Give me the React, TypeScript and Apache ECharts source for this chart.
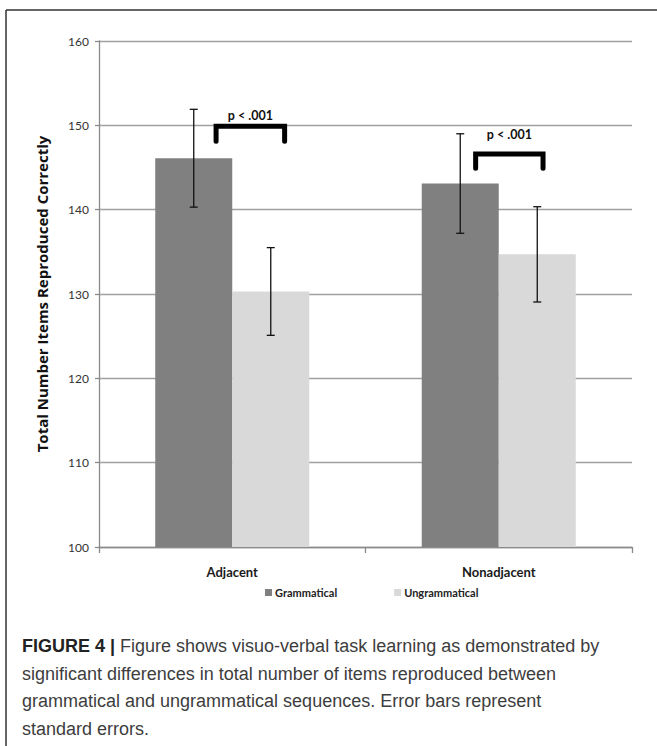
import React, { useEffect, useRef } from "react";
import * as echarts from "echarts";

const categories = ["Adjacent", "Nonadjacent"];
const seriesNames = ["Grammatical", "Ungrammatical"];
const grammatical = [146.1, 143.1];
const ungrammatical = [130.3, 134.7];
const grammaticalSE = [5.8, 5.9];
const ungrammaticalSE = [5.2, 5.65];
const yTicks = { min: 100, max: 160, interval: 10 };
// [category index, bracket top value, bracket leg end value, label value]
const brackets = [
  [0, 149.9, 148.1, 151.2],
  [1, 146.6, 144.9, 148.9],
];
const bracketLabel = "p < .001";
const yAxisTitle = "Total Number Items Reproduced Correctly";
const captionLines = [
  "{b|FIGURE 4 |} Figure shows visuo-verbal task learning as demonstrated by",
  "significant differences in total number of items reproduced between",
  "grammatical and ungrammatical sequences. Error bars represent",
  "standard errors.",
];

// layout (fractions of the bar width) for the bracket ends, relative to the bar centres
const bracketLayout = [
  { l: 0.29, r: 0.18 },
  { l: 0.2, r: 0.075 },
];

const GAP = 0.422; // barCategoryGap
const FONT = "Lato, 'Open Sans', sans-serif";
const CAPFONT = "'Liberation Sans', Arial, sans-serif";

export default function App() {
  const ref = useRef<HTMLDivElement>(null);
  useEffect(() => {
    if (!ref.current) return;
    const chart = echarts.init(ref.current, undefined, { renderer: "svg" });

    const errorSeries = (name: string, means: number[], se: number[], sign: number) => ({
      type: "custom",
      name: name + " SE",
      z: 5,
      data: means.map((m, i) => [i, m - se[i], m + se[i]]),
      renderItem: (params: any, api: any) => {
        const band = api.size([1, 0])[0];
        const barW = (band * (1 - GAP)) / 2;
        const lo = api.coord([api.value(0), api.value(1)]);
        const hi = api.coord([api.value(0), api.value(2)]);
        const x = lo[0] + (sign * barW) / 2;
        const cap = 4;
        const st = { stroke: "#111", lineWidth: 1.3 };
        return {
          type: "group",
          children: [
            { type: "line", shape: { x1: x, y1: lo[1], x2: x, y2: hi[1] }, style: st },
            { type: "line", shape: { x1: x - cap, y1: lo[1], x2: x + cap, y2: lo[1] }, style: st },
            { type: "line", shape: { x1: x - cap, y1: hi[1], x2: x + cap, y2: hi[1] }, style: st },
          ],
        };
      },
    });

    const bracketSeries = {
      type: "custom",
      name: "brackets",
      z: 6,
      data: brackets,
      renderItem: (params: any, api: any) => {
        const band = api.size([1, 0])[0];
        const barW = (band * (1 - GAP)) / 2;
        const idx = params.dataIndex;
        const lay = bracketLayout[idx];
        const top = api.coord([api.value(0), api.value(1)]);
        const leg = api.coord([api.value(0), api.value(2)]);
        const lab = api.coord([api.value(0), api.value(3)]);
        const c = top[0];
        const x1 = c - barW / 2 + lay.l * barW;
        const x2 = c + barW / 2 + lay.r * barW;
        return {
          type: "group",
          children: [
            {
              type: "polyline",
              shape: {
                points: [
                  [x1, leg[1]],
                  [x1, top[1]],
                  [x2, top[1]],
                  [x2, leg[1]],
                ],
              },
              style: { stroke: "#000", lineWidth: 5, fill: null, lineCap: "round", lineJoin: "miter" },
            },
            {
              type: "text",
              style: {
                text: bracketLabel,
                x: (x1 + x2) / 2,
                y: lab[1],
                align: "center",
                verticalAlign: "middle",
                fontFamily: FONT,
                fontWeight: "bold",
                fontSize: 12.5,
                fill: "#111",
              },
            },
          ],
        };
      },
    };

    chart.setOption({
      animation: false,
      backgroundColor: "#fff",
      grid: { left: 99, right: 25, top: 41, bottom: 199, containLabel: false },
      legend: {
        data: seriesNames,
        left: 265,
        top: 587,
        padding: 0,
        icon: "rect",
        itemWidth: 7,
        itemHeight: 7,
        itemGap: 57,
        selectedMode: false,
        textStyle: { fontFamily: FONT, fontSize: 11, fontWeight: "bold", color: "#222", padding: [0, 0, 0, -2] },
      },
      xAxis: {
        type: "category",
        data: categories,
        axisLine: { lineStyle: { color: "#8a8a8a", width: 1.3 } },
        axisTick: { show: true, length: 6, lineStyle: { color: "#8a8a8a", width: 1.3 } },
        axisLabel: { margin: 18, fontFamily: FONT, fontSize: 13, fontWeight: "bold", color: "#1a1a1a" },
      },
      yAxis: {
        type: "value",
        min: yTicks.min,
        max: yTicks.max,
        interval: yTicks.interval,
        name: yAxisTitle,
        nameLocation: "middle",
        nameGap: 50,
        nameTextStyle: { fontFamily: "'Open Sans', Lato, sans-serif", fontSize: 15, fontWeight: "bold", color: "#111" },
        axisLine: { show: true, lineStyle: { color: "#8a8a8a", width: 1.3 } },
        axisTick: { show: true, length: 4, lineStyle: { color: "#8a8a8a", width: 1.3 } },
        axisLabel: { margin: 10, fontFamily: FONT, fontSize: 12, color: "#333" },
        splitLine: { lineStyle: { color: "#a0a0a0", width: 1.3 } },
      },
      series: [
        {
          type: "bar",
          name: seriesNames[0],
          data: grammatical,
          barGap: "0%",
          barCategoryGap: GAP * 100 + "%",
          itemStyle: { color: "#808080" },
        },
        {
          type: "bar",
          name: seriesNames[1],
          data: ungrammatical,
          barGap: "0%",
          barCategoryGap: GAP * 100 + "%",
          itemStyle: { color: "#d9d9d9" },
        },
        errorSeries(seriesNames[0], grammatical, grammaticalSE, -1),
        errorSeries(seriesNames[1], ungrammatical, ungrammaticalSE, 1),
        bracketSeries,
      ],
      graphic: [
        { type: "line", shape: { x1: 6, y1: 10, x2: 657, y2: 10 }, style: { stroke: "#333", lineWidth: 1.5 } },
        { type: "line", shape: { x1: 6, y1: 10, x2: 6, y2: 746 }, style: { stroke: "#333", lineWidth: 1.5 } },
        ...captionLines.map((t, i) => ({
          type: "text",
          left: 22,
          top: 637 + i * 27.6,
          style: {
            text: t,
            fontFamily: CAPFONT,
            fontSize: 18,
            fill: "#3d3d3d",
            rich: {
              b: {
                fontFamily: CAPFONT,
                fontSize: 18,
                fontWeight: "bold",
                fill: "#222",
              },
            },
          },
        })),
      ],
    });
    return () => chart.dispose();
  }, []);
  return (
    <div
      ref={ref}
      style={{ position: "fixed", left: 0, top: 0, width: 657, height: 746, background: "#fff" }}
    />
  );
}
